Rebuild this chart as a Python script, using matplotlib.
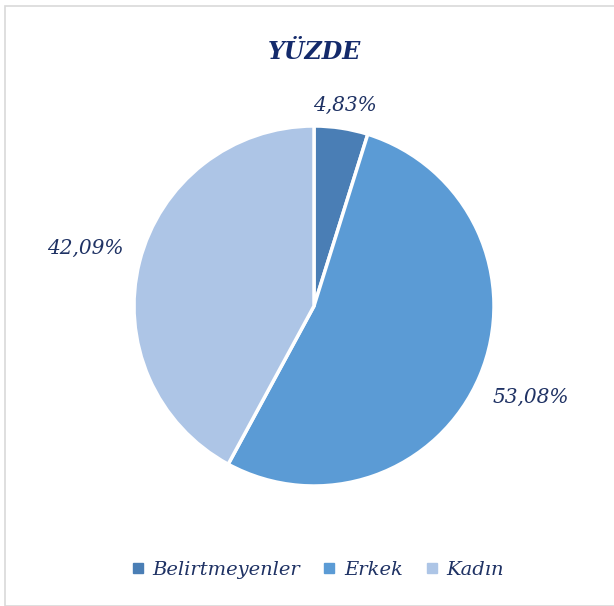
import numpy as np
import matplotlib.pyplot as plt
from matplotlib.patches import Rectangle

categories = ["Belirtmeyenler", "Erkek", "Kadın"]
values = [4.83, 53.08, 42.09]
pct_labels = ["4,83%", "53,08%", "42,09%"]
colors = ["#4A7EB5", "#5B9BD5", "#ADC5E6"]
navy = "#1F3264"

W, H = 614, 606
fig = plt.figure(figsize=(W / 100, H / 100), dpi=100)

# light grey frame like the office chart area
fig.patches.append(Rectangle((5 / W, 0), 1.0, 1 - 6 / H, transform=fig.transFigure,
                             fill=False, edgecolor="#D9D9D9", linewidth=1.2))

cx, cy, r = 314, 306, 180
ax = fig.add_axes([(cx - r) / W, (H - cy - r) / H, 2 * r / W, 2 * r / H])
wedges, _ = ax.pie(values, colors=colors, startangle=90, counterclock=False,
                   wedgeprops=dict(edgecolor="white", linewidth=2.5))
ax.set_xlim(-1, 1)
ax.set_ylim(-1, 1)
ax.set_aspect("equal")
ax.axis("off")

dists = [1.13, 1.31, 1.31]
for w, lab, d in zip(wedges, pct_labels, dists):
    ang = np.deg2rad((w.theta1 + w.theta2) / 2)
    ax.text(d * np.cos(ang), d * np.sin(ang), lab, ha="center", va="center",
            fontsize=14.5, style="italic", color=navy, family="DejaVu Serif")

fig.text(cx / W, 1 - 52 / H, "YÜZDE", ha="center", va="center", fontsize=17,
         weight="bold", style="italic", color="#142a6b", family="DejaVu Serif")

handles = [plt.Line2D([], [], marker="s", linestyle="", markersize=6.5, color=c) for c in colors]
fig.legend(handles, categories, loc="center", bbox_to_anchor=(318 / W, 1 - 570 / H),
           ncol=3, frameon=False, handlelength=0.6, handletextpad=0.45, columnspacing=1.2,
           prop=dict(family="DejaVu Serif", style="italic", size=14), labelcolor=navy)

fig.savefig("out.png", dpi=100)
